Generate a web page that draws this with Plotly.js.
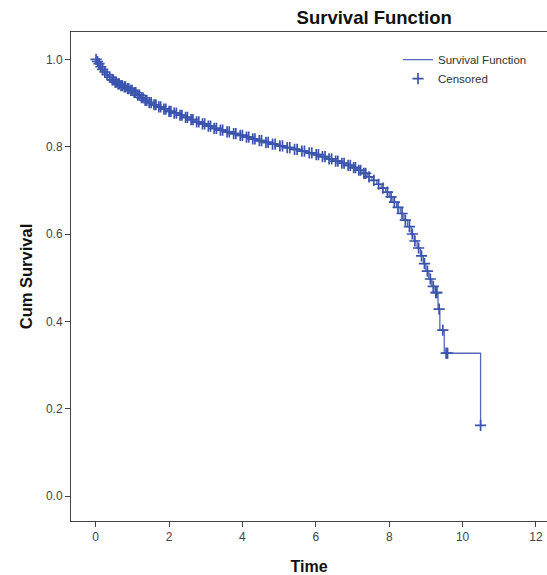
<!DOCTYPE html>
<html>
<head>
<meta charset="utf-8">
<script src="https://cdn.plot.ly/plotly-3.0.1.min.js"></script>
<style>html,body{margin:0;padding:0;background:#fff;}#chart{width:547px;height:575px;}</style>
</head>
<body>
<div id="chart"></div>
<script>
// Kaplan-Meier step curve: event times and cumulative survival after each step
const stepTime = [0.00,0.03,0.07,0.12,0.17,0.22,0.28,0.35,0.42,0.50,0.58,0.66,0.75,0.84,0.93,1.02,1.12,1.22,1.32,1.42,1.55,1.68,1.82,1.96,2.10,2.25,2.40,2.55,2.70,2.86,3.02,3.18,3.35,3.52,3.70,3.88,4.05,4.22,4.40,4.58,4.76,4.95,5.15,5.35,5.55,5.75,5.95,6.12,6.30,6.48,6.65,6.82,6.98,7.12,7.26,7.40,7.53,7.66,7.78,7.90,8.00,8.10,8.20,8.30,8.40,8.50,8.60,8.68,8.76,8.85,8.93,9.00,9.08,9.16,9.25,9.33,9.38,9.50,10.49];
const stepSurv = [1.000,0.995,0.990,0.983,0.977,0.971,0.965,0.959,0.953,0.948,0.944,0.940,0.937,0.933,0.929,0.924,0.918,0.912,0.906,0.901,0.896,0.891,0.886,0.881,0.877,0.872,0.867,0.862,0.857,0.852,0.847,0.842,0.838,0.834,0.830,0.826,0.822,0.818,0.814,0.810,0.806,0.802,0.798,0.794,0.790,0.786,0.782,0.777,0.772,0.767,0.762,0.757,0.752,0.746,0.739,0.731,0.723,0.714,0.705,0.696,0.685,0.673,0.661,0.647,0.632,0.617,0.600,0.584,0.568,0.550,0.532,0.515,0.497,0.480,0.466,0.428,0.380,0.327,0.162];

// Censored observations: time and survival at that time
const censTime = [0.01,0.05,0.09,0.14,0.19,0.25,0.31,0.38,0.45,0.48,0.53,0.56,0.61,0.64,0.69,0.72,0.78,0.81,0.87,0.90,0.96,0.99,1.05,1.09,1.15,1.19,1.25,1.29,1.35,1.39,1.46,1.51,1.59,1.64,1.72,1.77,1.86,1.91,2.00,2.05,2.14,2.20,2.30,2.35,2.45,2.50,2.60,2.65,2.75,2.81,2.91,2.97,3.07,3.13,3.23,3.29,3.40,3.46,3.58,3.64,3.76,3.82,3.94,4.00,4.11,4.17,4.28,4.34,4.46,4.52,4.64,4.70,4.82,4.89,5.02,5.09,5.22,5.29,5.42,5.49,5.62,5.69,5.82,5.89,6.01,6.07,6.18,6.25,6.36,6.43,6.54,6.60,6.71,6.77,6.88,6.94,7.03,7.08,7.17,7.22,7.31,7.36,7.45,7.58,7.71,7.83,7.95,8.05,8.14,8.24,8.35,8.44,8.55,8.63,8.70,8.80,8.88,8.96,9.04,9.12,9.20,9.27,9.30,9.36,9.46,9.55,9.57,9.59,10.49];
const censSurv = [1.000,0.995,0.990,0.983,0.977,0.971,0.965,0.959,0.953,0.953,0.948,0.948,0.944,0.944,0.940,0.940,0.937,0.937,0.933,0.933,0.929,0.929,0.924,0.924,0.918,0.918,0.912,0.912,0.906,0.906,0.901,0.901,0.896,0.896,0.891,0.891,0.886,0.886,0.881,0.881,0.877,0.877,0.872,0.872,0.867,0.867,0.862,0.862,0.857,0.857,0.852,0.852,0.847,0.847,0.842,0.842,0.838,0.838,0.834,0.834,0.830,0.830,0.826,0.826,0.822,0.822,0.818,0.818,0.814,0.814,0.810,0.810,0.806,0.806,0.802,0.802,0.798,0.798,0.794,0.794,0.790,0.790,0.786,0.786,0.782,0.782,0.777,0.777,0.772,0.772,0.767,0.767,0.762,0.762,0.757,0.757,0.752,0.752,0.746,0.746,0.739,0.739,0.731,0.723,0.714,0.705,0.696,0.685,0.673,0.661,0.647,0.632,0.617,0.600,0.584,0.568,0.550,0.532,0.515,0.497,0.480,0.466,0.466,0.428,0.380,0.327,0.327,0.327,0.162];

const xTicks = [0,2,4,6,8,10,12];
const yTicks = [0.0,0.2,0.4,0.6,0.8,1.0];

const FONT = '"Liberation Sans", Arial, sans-serif';
const BLUE = '#3a54ae';

const traces = [
  {
    x: stepTime, y: stepSurv, type: 'scatter', mode: 'lines',
    line: {shape: 'hv', color: '#566ab6', width: 1.3},
    name: 'Survival Function', hoverinfo: 'skip'
  },
  {
    x: censTime, y: censSurv, type: 'scatter', mode: 'markers',
    marker: {symbol: 'cross-thin', size: 8, color: BLUE, line: {color: BLUE, width: 1.7}},
    name: 'Censored', hoverinfo: 'skip'
  }
];

const layout = {
  width: 547, height: 575,
  margin: {l: 71, r: 0, t: 32, b: 54, pad: 0},
  paper_bgcolor: '#fff', plot_bgcolor: '#fff',
  font: {family: FONT, size: 12, color: '#333'},
  title: {
    text: '<b>Survival Function</b>',
    font: {family: FONT, size: 18.5, color: '#111'},
    x: 0.637, xref: 'paper', xanchor: 'center',
    y: 1 - 18/575, yref: 'container', yanchor: 'middle'
  },
  showlegend: true,
  legend: {
    x: 0.687, y: 0.973, xanchor: 'left', yanchor: 'top',
    font: {family: FONT, size: 11.5, color: '#333'},
    bgcolor: 'rgba(0,0,0,0)', borderwidth: 0, tracegroupgap: 0, itemwidth: 30
  },
  xaxis: {
    range: [-0.673, 12.30],
    tickvals: xTicks, ticktext: xTicks.map(String),
    ticks: 'outside', ticklen: 5, tickwidth: 1, tickcolor: '#444',
    showgrid: false, zeroline: false,
    showline: true, linecolor: '#444', linewidth: 1, mirror: true,
    tickfont: {family: FONT, size: 12, color: '#444'},
    title: {text: '<b>Time</b>', font: {family: FONT, size: 16, color: '#111'}, standoff: 18}
  },
  yaxis: {
    range: [-0.0572, 1.0626],
    tickvals: yTicks, ticktext: yTicks.map(v => v.toFixed(1)),
    ticks: 'outside', ticklen: 5, tickwidth: 1, tickcolor: '#444',
    showgrid: false, zeroline: false,
    showline: true, linecolor: '#444', linewidth: 1, mirror: false,
    tickfont: {family: FONT, size: 12, color: '#444'},
    title: {text: '<b>Cum Survival</b>', font: {family: FONT, size: 16.5, color: '#111'}, standoff: 9}
  }
};

Plotly.newPlot('chart', traces, layout, {staticPlot: true, displayModeBar: false});
</script>
</body>
</html>
